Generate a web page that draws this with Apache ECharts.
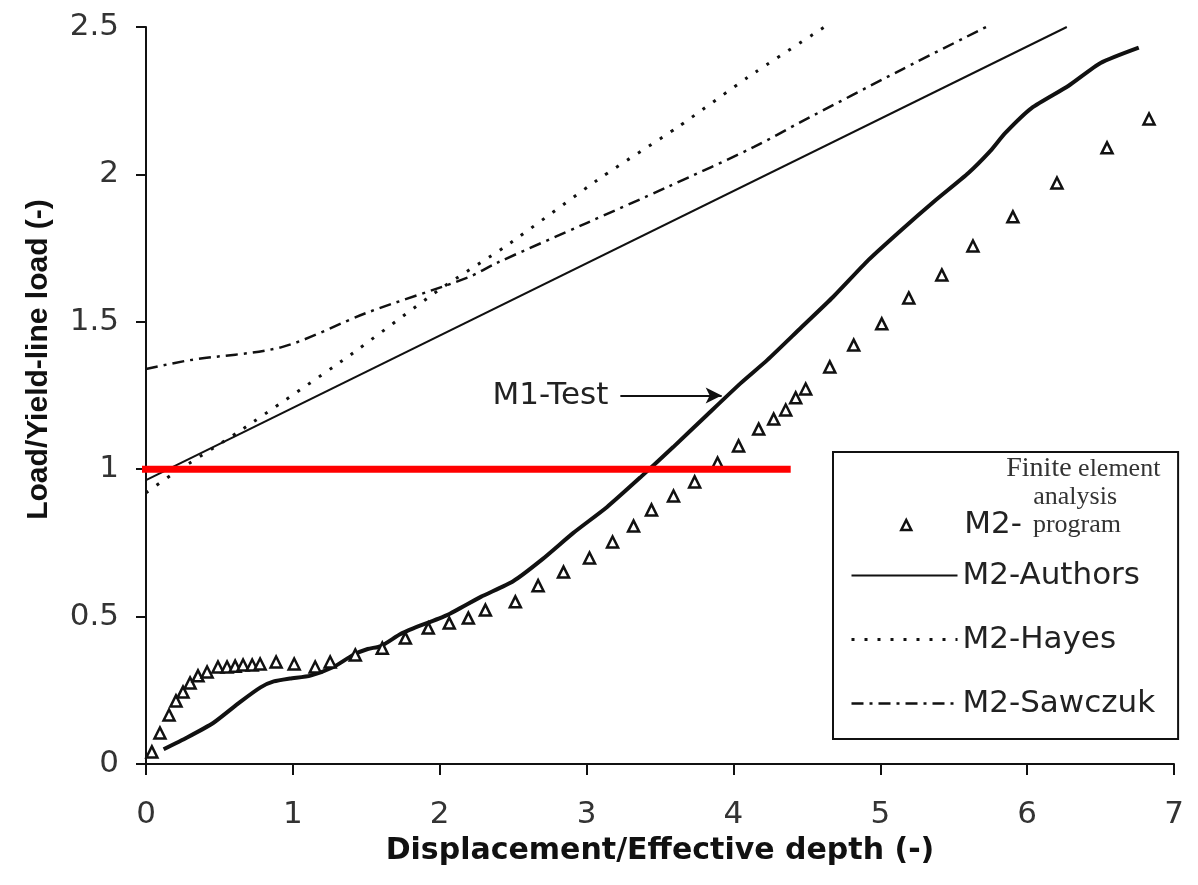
<!DOCTYPE html>
<html>
<head>
<meta charset="utf-8">
<title>Load / displacement</title>
<script src="https://cdn.jsdelivr.net/npm/echarts@6.0.0/dist/echarts.min.js"></script>
<style>
    html, body { margin: 0; padding: 0; background: #fff; }
    #chart { width: 1198px; height: 885px; }
</style>
</head>
<body>
<div id="chart"></div>
<script>
// series names
const feaName = 'M2-Finite element analysis program';
const authName = 'M2-Authors';
const hayName = 'M2-Hayes';
const sawName = 'M2-Sawczuk';
const testName = 'M1-Test';

// finite element results (triangles)
const feaX = [0.04, 0.095, 0.157, 0.204, 0.252, 0.30, 0.354, 0.416, 0.49, 0.552, 0.607, 0.661, 0.723, 0.777, 0.886,
    1.009, 1.152, 1.254, 1.425, 1.609, 1.766, 1.922, 2.065, 2.195, 2.311, 2.515, 2.67, 2.843, 3.02, 3.177, 3.32,
    3.442, 3.592, 3.736, 3.892, 4.035, 4.172, 4.274, 4.356, 4.424, 4.492, 4.656, 4.819, 5.01, 5.194, 5.419, 5.631,
    5.903, 6.203, 6.544, 6.83];
const feaY = [0.041, 0.105, 0.166, 0.214, 0.244, 0.275, 0.299, 0.312, 0.329, 0.329, 0.332, 0.336, 0.336, 0.339, 0.346,
    0.339, 0.329, 0.346, 0.37, 0.393, 0.427, 0.461, 0.478, 0.495, 0.522, 0.55, 0.605, 0.651, 0.699, 0.753, 0.807,
    0.862, 0.909, 0.957, 1.021, 1.079, 1.136, 1.17, 1.201, 1.242, 1.272, 1.347, 1.421, 1.493, 1.581, 1.659, 1.757,
    1.856, 1.971, 2.09, 2.188];

// M1 test curve
const testX = [0.12, 0.28, 0.46, 0.64, 0.78, 0.87, 0.98, 1.12, 1.28, 1.41, 1.51, 1.6, 1.73, 1.82, 2.05, 2.28, 2.5,
    2.7, 2.91, 3.14, 3.37, 3.59, 3.82, 4.05, 4.23, 4.46, 4.68, 4.92, 5.14, 5.37, 5.6, 5.75, 5.85, 6.03, 6.28, 6.5, 6.76];
const testY = [0.05, 0.09, 0.14, 0.21, 0.26, 0.28, 0.29, 0.30, 0.33, 0.37, 0.39, 0.40, 0.44, 0.46, 0.505, 0.567, 0.62,
    0.695, 0.784, 0.872, 0.974, 1.075, 1.184, 1.292, 1.37, 1.48, 1.585, 1.71, 1.81, 1.91, 2.005, 2.08, 2.14, 2.225,
    2.30, 2.378, 2.43];

// analytical predictions
const authX = [0, 6.27];
const authY = [0.963, 2.5];
const hayX = [0, 0.2, 0.64, 1.37, 2.0, 2.46, 3.1, 3.62, 4.1, 4.62];
const hayY = [0.92, 0.99, 1.13, 1.38, 1.61, 1.76, 1.99, 2.16, 2.33, 2.5];
const sawX = [0, 0.3, 0.93, 1.5, 2.19, 2.39, 3.0, 3.55, 4.14, 4.46, 5.14, 5.72];
const sawY = [1.34, 1.37, 1.415, 1.53, 1.65, 1.70, 1.835, 1.957, 2.093, 2.178, 2.354, 2.5];

// red reference line at load ratio 1
const redX = [-0.14, 4.39];
const redY = [1, 1];

// arrow pointing at the test curve
const arrowFrom = [3.23, 1.25];
const arrowTo = [3.92, 1.25];

function zip(xs, ys) {
    let out = [];
    for (let i = 0; i < xs.length; i++) {
        out.push([xs[i], ys[i]]);
    }
    return out;
}

let myChart = echarts.init(document.getElementById('chart'));

let option = {
    backgroundColor: '#fff',
    animation: false,
    grid: {
        left: 146,
        right: 24,
        top: 27,
        bottom: 121,
        outerBoundsMode: 'none'
    },
    legend: [{
        // finite element entry, three line label
        data: [feaName],
        left: 900,
        top: 455,
        padding: 0,
        itemWidth: 10,
        itemHeight: 10,
        selectedMode: false,
        itemStyle: { borderWidth: 2.5 },
        formatter: function () {
            return '{p1| }{fin|Finite}{el| element}\n{p2| }{el|analysis}\n{m|M2-}{p3| }{el|program}';
        },
        textStyle: {
            padding: [0, 0, 56, 48],
            rich: {
                p1: { width: 42, lineHeight: 28 },
                p2: { width: 69, lineHeight: 28 },
                p3: { width: 11, lineHeight: 28 },
                fin: { fontFamily: 'Liberation Serif', fontSize: 28, color: '#333', lineHeight: 28 },
                el: { fontFamily: 'Liberation Serif', fontSize: 26, color: '#333', lineHeight: 28 },
                m: { fontFamily: 'DejaVu Sans', fontSize: 31, color: '#222', lineHeight: 28 }
            }
        }
    }, {
        data: [authName, hayName, sawName],
        orient: 'vertical',
        left: 833,
        top: 452,
        padding: [108, 23, 20, 17],
        itemWidth: 106,
        itemHeight: 14,
        itemGap: 33,
        selectedMode: false,
        borderColor: '#111',
        borderWidth: 2,
        lineStyle: { width: 'inherit' },
        itemStyle: { opacity: 0 },
        textStyle: {
            fontFamily: 'DejaVu Sans',
            fontSize: 31,
            color: '#222',
            lineHeight: 30
        }
    }],
    xAxis: {
        type: 'value',
        min: 0,
        max: 7,
        interval: 1,
        name: 'Displacement/Effective depth (-)',
        nameLocation: 'middle',
        nameGap: 72,
        nameTextStyle: {
            fontFamily: 'DejaVu Sans',
            fontWeight: 'bold',
            fontSize: 30,
            color: '#111'
        },
        splitLine: { show: false },
        axisLine: { lineStyle: { color: '#111', width: 2 } },
        axisTick: { length: 11, lineStyle: { color: '#111', width: 2 } },
        axisLabel: {
            margin: 35,
            fontFamily: 'DejaVu Sans',
            fontSize: 31,
            color: '#333'
        }
    },
    yAxis: {
        type: 'value',
        min: 0,
        max: 2.5,
        interval: 0.5,
        name: 'Load/Yield-line load (-)',
        nameLocation: 'middle',
        nameRotate: 90,
        nameGap: 92,
        nameTextStyle: {
            fontFamily: 'Liberation Sans',
            fontWeight: 'bold',
            fontSize: 30,
            color: '#111',
            padding: [0, 0, 0, 72]
        },
        splitLine: { show: false },
        axisLine: { show: true, lineStyle: { color: '#111', width: 2 } },
        axisTick: { show: true, length: 10, lineStyle: { color: '#111', width: 2 } },
        axisLabel: {
            margin: 27,
            fontFamily: 'DejaVu Sans',
            fontSize: 31,
            color: '#333'
        }
    },
    series: [
        {
            name: authName,
            type: 'line',
            data: zip(authX, authY),
            symbol: 'none',
            color: '#111',
            lineStyle: { color: '#111', width: 2 }
        },
        {
            name: hayName,
            type: 'line',
            data: zip(hayX, hayY),
            symbol: 'none',
            smooth: 0.2,
            color: '#111',
            lineStyle: { color: '#111', width: 3, type: [3, 10] }
        },
        {
            name: sawName,
            type: 'line',
            data: zip(sawX, sawY),
            symbol: 'none',
            smooth: 0.3,
            color: '#111',
            lineStyle: { color: '#111', width: 2.5, type: [12, 6, 3, 6] }
        },
        {
            name: testName,
            type: 'line',
            data: zip(testX, testY),
            symbol: 'none',
            smooth: 0.2,
            color: '#111',
            lineStyle: { color: '#111', width: 4 },
            markLine: {
                silent: true,
                animation: false,
                symbol: ['none', 'arrow'],
                symbolSize: [12, 16],
                lineStyle: { color: '#111', width: 2, type: 'solid' },
                label: {
                    show: true,
                    position: 'start',
                    distance: 12,
                    formatter: testName,
                    fontFamily: 'DejaVu Sans',
                    fontSize: 31,
                    color: '#222'
                },
                data: [[{ coord: arrowFrom }, { coord: arrowTo }]]
            }
        },
        {
            name: feaName,
            type: 'scatter',
            data: zip(feaX, feaY),
            symbol: 'triangle',
            symbolSize: 11,
            itemStyle: { color: '#fff', borderColor: '#111', borderWidth: 2.5, opacity: 1 },
            z: 3
        },
        {
            name: 'ref',
            type: 'line',
            data: zip(redX, redY),
            symbol: 'none',
            clip: false,
            silent: true,
            color: '#ff0000',
            lineStyle: { color: '#ff0000', width: 7 },
            z: 5
        }
    ]
};

myChart.setOption(option);
window.onresize = function () {
    myChart.resize();
};
</script>
</body>
</html>
